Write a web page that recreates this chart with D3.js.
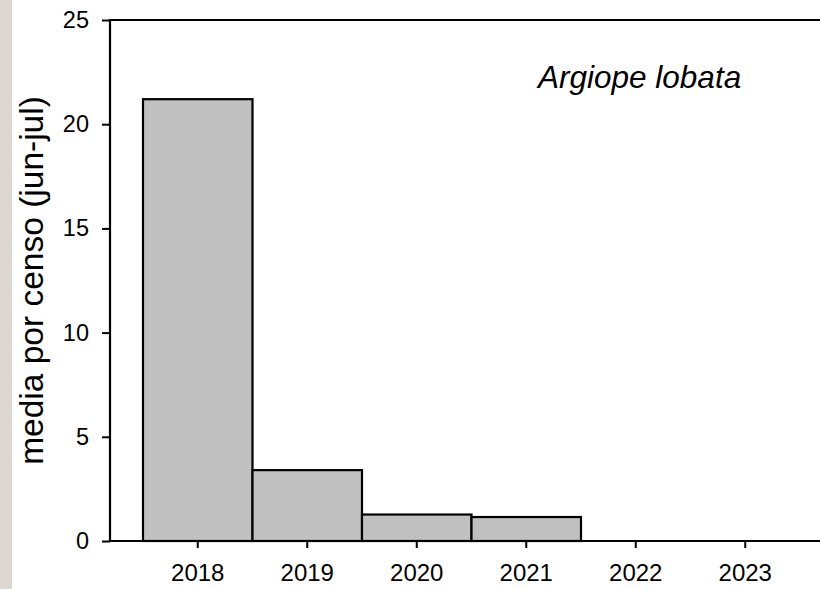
<!DOCTYPE html>
<html>
<head>
<meta charset="utf-8">
<script src="https://cdn.jsdelivr.net/npm/d3@7"></script>
<style>
  html, body { margin: 0; padding: 0; background: #fff; }
  svg { display: block; }
  text { font-family: "Liberation Sans", Arial, sans-serif; fill: #000; }
</style>
</head>
<body>
<svg id="chart" width="820" height="589"></svg>
<script>
const years = ["2018", "2019", "2020", "2021", "2022", "2023"];
const values = [21.2, 3.4, 1.27, 1.15, 0, 0];
const yTicks = [0, 5, 10, 15, 20, 25];
const yLabel = "media por censo (jun-jul)";
const title = "Argiope lobata";

const svg = d3.select("#chart");
const W = 820, H = 589;

// textured left strip of the photographed page
svg.append("rect").attr("x", 0).attr("y", 0).attr("width", 12).attr("height", H)
  .attr("fill", "#dcd7d2");

const axisLeftX = 110, axisRightX = 820;
const x = d3.scaleBand().domain(years).range([143, 800]).padding(0);
const y = d3.scaleLinear().domain([0, 25]).range([541, 20]);

// bars
svg.append("g").selectAll("rect").data(years.map((d, i) => ({ year: d, v: values[i] })).filter(d => d.v > 0))
  .join("rect")
  .attr("x", d => x(d.year))
  .attr("y", d => y(d.v))
  .attr("width", x.bandwidth())
  .attr("height", d => y(0) - y(d.v))
  .attr("fill", "#c0c0c0")
  .attr("stroke", "#000")
  .attr("stroke-width", 2.2);

// y axis
const gy = svg.append("g").attr("transform", `translate(${axisLeftX},0)`)
  .call(d3.axisLeft(y).tickValues(yTicks).tickSize(8).tickPadding(13).tickSizeOuter(0));
gy.select(".domain").remove();
gy.selectAll(".tick line").attr("stroke", "#000").attr("stroke-width", 2);
gy.selectAll(".tick text").style("font-size", "23.5px").attr("fill", "#000");

// x axis
const gx = svg.append("g").attr("transform", `translate(0,${y(0)})`)
  .call(d3.axisBottom(x).tickSize(7).tickPadding(16).tickSizeOuter(0));
gx.select(".domain").remove();
gx.selectAll(".tick line").attr("stroke", "#000").attr("stroke-width", 2);
gx.selectAll(".tick text").style("font-size", "24px").attr("fill", "#000");

// frame lines
svg.append("line").attr("x1", axisLeftX).attr("x2", axisLeftX).attr("y1", y(25) - 1).attr("y2", y(0) + 1)
  .attr("stroke", "#000").attr("stroke-width", 2.2);
svg.append("line").attr("x1", axisLeftX).attr("x2", axisRightX).attr("y1", y(0)).attr("y2", y(0))
  .attr("stroke", "#000").attr("stroke-width", 2.2);
svg.append("line").attr("x1", axisLeftX).attr("x2", axisRightX).attr("y1", y(25)).attr("y2", y(25))
  .attr("stroke", "#000").attr("stroke-width", 2.2);

// y label
svg.append("text")
  .attr("transform", `translate(43,${(y(0) + y(25)) / 2}) rotate(-90)`)
  .attr("text-anchor", "middle")
  .style("font-size", "33.5px")
  .text(yLabel);

// title
svg.append("text")
  .attr("x", 538).attr("y", 88)
  .style("font-size", "31.5px")
  .style("font-style", "italic")
  .text(title);
</script>
</body>
</html>
